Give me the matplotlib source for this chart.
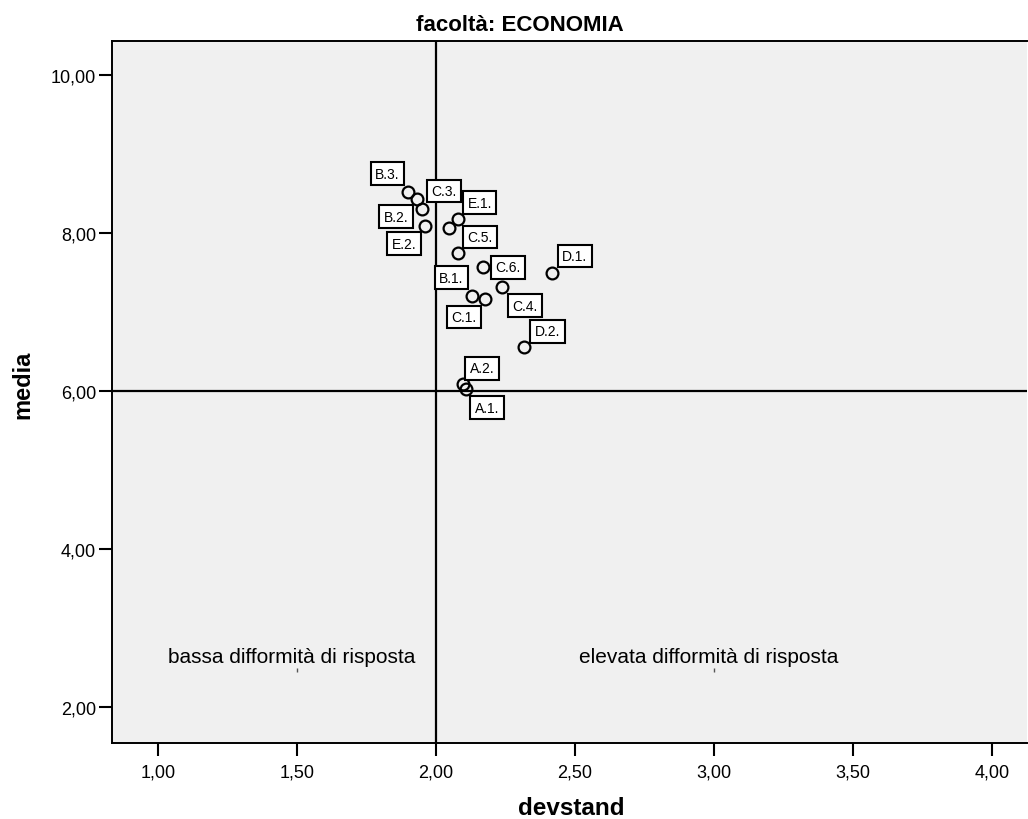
import matplotlib
matplotlib.use("Agg")
import matplotlib.pyplot as plt

# ---- data ----
codes = ["B.3.", "B.2.", "C.3.", "E.2.", "C.2.", "E.1.", "C.5.", "C.6.",
         "D.1.", "C.4.", "B.1.", "C.1.", "D.2.", "A.2.", "A.1."]
devstand = [1.899, 1.932, 1.950, 1.962, 2.049, 2.079, 2.079, 2.169,
            2.417, 2.238, 2.129, 2.178, 2.319, 2.099, 2.109]
media = [8.529, 8.437, 8.310, 8.099, 8.073, 8.184, 7.753, 7.572,
         7.500, 7.323, 7.213, 7.171, 6.559, 6.091, 6.032]
label_shown = [True, True, True, True, False, True, True, True,
               True, True, True, True, True, True, True]

x_ticks = [1.0, 1.5, 2.0, 2.5, 3.0, 3.5, 4.0]
x_tick_labels = ["1,00", "1,50", "2,00", "2,50", "3,00", "3,50", "4,00"]
y_ticks = [2.0, 4.0, 6.0, 8.0, 10.0]
y_tick_labels = ["2,00", "4,00", "6,00", "8,00", "10,00"]

ref_x = 2.0
ref_y = 6.0
quadrant_texts = ["bassa difformità di risposta", "elevata difformità di risposta"]
quadrant_x = [1.5, 3.0]
quadrant_y = [2.48, 2.48]

title = "facoltà: ECONOMIA"
xlabel = "devstand"
ylabel = "media"

# ---- style: label offsets (pixels, box centre relative to point) ----
label_offsets = {
    "B.3.": (-20, 18), "B.2.": (-21, -18), "C.3.": (22, 18), "E.2.": (-21, -18),
    "C.2.": (22, 18), "E.1.": (22, 16), "C.5.": (22, 16), "C.6.": (25, 0),
    "D.1.": (23, 17), "C.4.": (23, -19), "B.1.": (-20, 18), "C.1.": (-21, -18),
    "D.2.": (23, 16), "A.2.": (19, 16), "A.1.": (21, -19),
}

plt.rcParams['font.family'] = ['Liberation Sans', 'DejaVu Sans']

fig = plt.figure(figsize=(10.28, 8.2), dpi=100)
ax = fig.add_axes([112 / 1028, 1 - 744 / 820, (1027 - 112) / 1028, (744 - 41.7) / 820])
ax.set_facecolor("#f0f0f0")
ax.set_xlim(0.8356, 4.127)
ax.set_ylim(1.55, 10.44)

for s in ax.spines.values():
    s.set_linewidth(1.4)
    s.set_color("black")
ax.spines['right'].set_visible(False)

ax.axvline(ref_x, color="black", lw=1.6, zorder=2)
ax.axhline(ref_y, color="black", lw=1.6, zorder=2)

ax.plot(devstand, media, linestyle="none", marker="o", markersize=8.5,
        markerfacecolor="none", markeredgecolor="black", markeredgewidth=1.6, zorder=3)

for c, x, y, show in zip(codes, devstand, media, label_shown):
    if not show:
        continue
    dx, dy = label_offsets[c]
    ax.annotate(c, (x, y), xytext=(dx, dy), textcoords="offset pixels",
                ha="center", va="center", fontsize=10, color="black",
                bbox=dict(boxstyle="square,pad=0.32", facecolor="white",
                          edgecolor="black", linewidth=1.5), zorder=4)

for t, x, y in zip(quadrant_texts, quadrant_x, quadrant_y):
    ax.annotate(t, (x, y), xytext=(-5, 8), textcoords="offset pixels",
                ha="center", va="baseline", fontsize=15, color="black")
    ax.plot([x], [y], marker="|", markersize=2.5, color="#555555", mew=1, zorder=2)

ax.set_xticks(x_ticks)
ax.set_xticklabels(x_tick_labels)
ax.set_yticks(y_ticks)
ax.set_yticklabels(y_tick_labels)
ax.tick_params(axis="both", direction="out", length=9.5, width=1.5, labelsize=13, color="black")
ax.tick_params(axis="x", pad=5)
ax.tick_params(axis="y", pad=2)

fig.text(520 / 1028, 1 - 31 / 820, title, ha="center", va="baseline",
         fontsize=16, fontweight="bold")
fig.text(571 / 1028, 1 - 815 / 820, xlabel, ha="center", va="baseline",
         fontsize=17.5, fontweight="bold")
fig.text(23 / 1028, 1 - 385 / 820, ylabel, ha="center", va="center", rotation=90,
         fontsize=17, fontweight="bold")

fig.savefig("out.png", dpi=100)
